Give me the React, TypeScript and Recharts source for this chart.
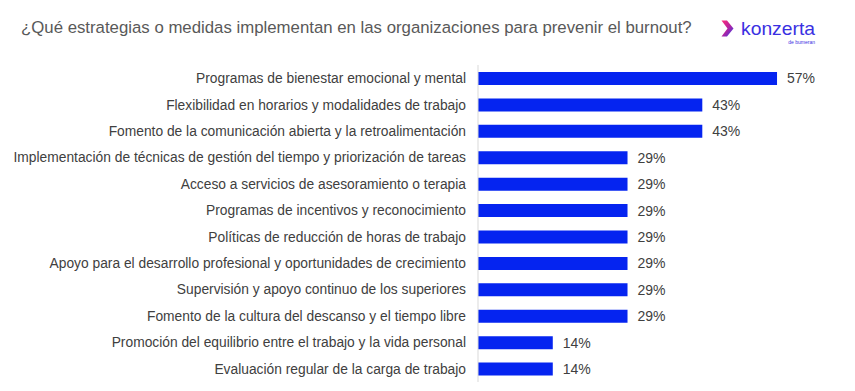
import React from 'react';
import { BarChart, Bar, XAxis, YAxis, LabelList } from 'recharts';

const categories = [
  'Programas de bienestar emocional y mental',
  'Flexibilidad en horarios y modalidades de trabajo',
  'Fomento de la comunicación abierta y la retroalimentación',
  'Implementación de técnicas de gestión del tiempo y priorización de tareas',
  'Acceso a servicios de asesoramiento o terapia',
  'Programas de incentivos y reconocimiento',
  'Políticas de reducción de horas de trabajo',
  'Apoyo para el desarrollo profesional y oportunidades de crecimiento',
  'Supervisión y apoyo continuo de los superiores',
  'Fomento de la cultura del descanso y el tiempo libre',
  'Promoción del equilibrio entre el trabajo y la vida personal',
  'Evaluación regular de la carga de trabajo',
];

const values = [57.14, 42.86, 42.86, 28.57, 28.57, 28.57, 28.57, 28.57, 28.57, 28.57, 14.29, 14.29];

const title = '¿Qué estrategias o medidas implementan en las organizaciones para prevenir el burnout?';

const data = categories.map((name, i) => ({ name, value: values[i] }));

const FONT = '"Liberation Sans", Arial, sans-serif';

// konzerta logo, drawn by hand
const Logo = () => (
  <svg width={100} height={34} viewBox="0 0 100 34">
    <defs>
      <linearGradient id="chev" x1="0" y1="0" x2="1" y2="1">
        <stop offset="0%" stopColor="#ff2a7a" />
        <stop offset="50%" stopColor="#b8229e" />
        <stop offset="100%" stopColor="#2a3cf0" />
      </linearGradient>
    </defs>
    <path d="M1.5 2.5 L7 2.5 L13.5 10.5 L7 18.5 L1.5 18.5 L7.5 10.5 Z" fill="url(#chev)" />
    <text
      x={21}
      y={17}
      fontFamily={FONT}
      fontSize={19}
      fill="#3a30e2"
      textLength={74}
      lengthAdjust="spacingAndGlyphs"
    >
      konzerta
    </text>
    <text x={95} y={26} fontFamily={FONT} fontSize={5} fill="#3a30e2" textAnchor="end">
      de bumeran
    </text>
  </svg>
);

export default function App() {
  return (
    <div style={{ position: 'absolute', left: 0, top: 0, width: 855, height: 391, background: '#fff', fontFamily: FONT }}>
      <div style={{ position: 'absolute', left: 21, top: 18, fontSize: 16.8, color: '#595959', whiteSpace: 'nowrap' }}>
        {title}
      </div>
      <div style={{ position: 'absolute', left: 720, top: 18 }}>
        <Logo />
      </div>
      <BarChart
        width={855}
        height={391}
        data={data}
        layout="vertical"
        margin={{ top: 65, right: 63, bottom: 9, left: 0 }}
        barSize={13}
      >
        <XAxis type="number" domain={[0, 60]} hide />
        <YAxis
          type="category"
          dataKey="name"
          width={478}
          axisLine={{ stroke: '#d9d9d9' }}
          tickLine={false}
          tickSize={0}
          tickMargin={12}
          interval={0}
          tick={{ fill: '#404040', fontSize: 13.8, fontFamily: FONT }}
        />
        <Bar dataKey="value" fill="#0524f0" isAnimationActive={false}>
          <LabelList
            dataKey="value"
            position="right"
            offset={10}
            formatter={(v: number) => `${Math.round(v)}%`}
            style={{ fill: '#404040', fontSize: 14, fontFamily: FONT }}
          />
        </Bar>
      </BarChart>
    </div>
  );
}
